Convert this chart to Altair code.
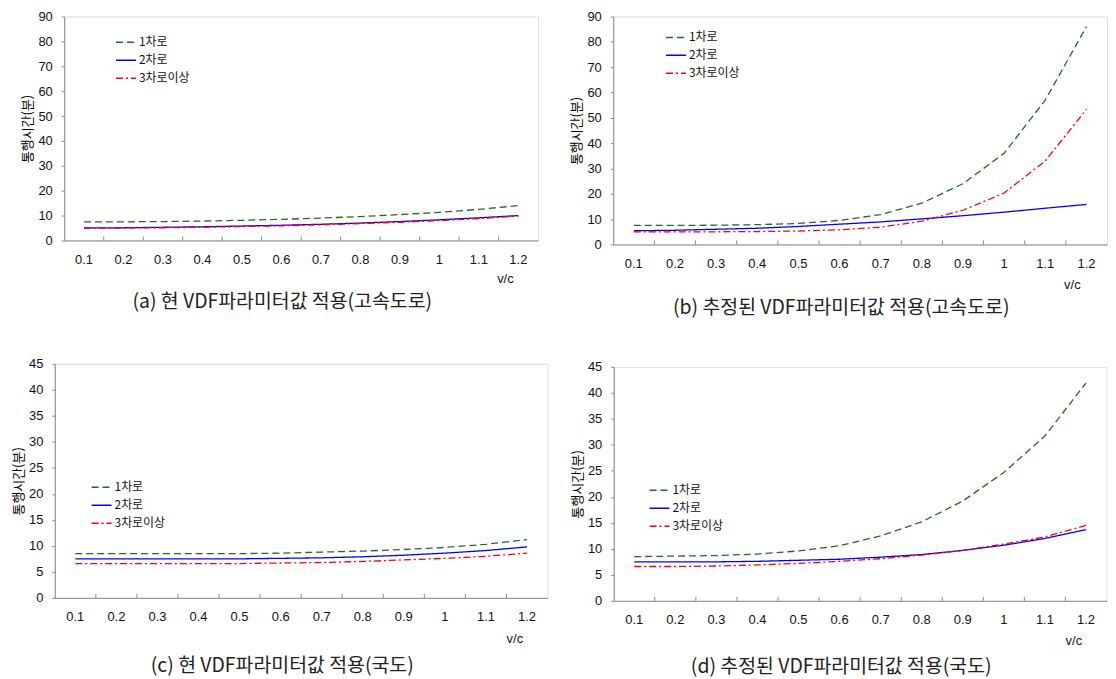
import altair as alt
import pandas as pd

vc = ["0.1", "0.2", "0.3", "0.4", "0.5", "0.6", "0.7", "0.8", "0.9", "1", "1.1", "1.2"]
series = ["1차로", "2차로", "3차로이상"]

# (a) 현 VDF파라미터값 적용(고속도로)
a1 = [7.5, 7.5, 7.6, 7.8, 8.1, 8.5, 9.0, 9.6, 10.4, 11.3, 12.5, 14.0]
a2 = [5.0, 5.1, 5.3, 5.5, 5.8, 6.1, 6.5, 7.0, 7.6, 8.3, 9.1, 10.0]
a3 = [5.0, 5.0, 5.1, 5.3, 5.6, 5.9, 6.3, 6.8, 7.3, 8.0, 8.8, 9.8]
# (b) 추정된 VDF파라미터값 적용(고속도로)
b1 = [7.5, 7.5, 7.6, 7.8, 8.3, 9.5, 11.8, 16.3, 24.0, 36.0, 57.0, 86.0]
b2 = [5.4, 5.6, 6.0, 6.4, 7.1, 8.0, 8.9, 10.1, 11.35, 12.75, 14.3, 15.8]
b3 = [5.0, 5.0, 5.0, 5.1, 5.3, 5.8, 6.8, 9.2, 13.5, 20.3, 33.0, 53.3]
# (c) 현 VDF파라미터값 적용(국도)
c1 = [8.5, 8.5, 8.5, 8.5, 8.5, 8.6, 8.8, 9.0, 9.3, 9.7, 10.3, 11.2]
c2 = [7.5, 7.5, 7.5, 7.5, 7.5, 7.6, 7.7, 7.9, 8.2, 8.6, 9.1, 9.8]
c3 = [6.6, 6.6, 6.6, 6.6, 6.6, 6.7, 6.8, 7.0, 7.3, 7.6, 8.0, 8.6]
# (d) 추정된 VDF파라미터값 적용(국도)
d1 = [8.5, 8.6, 8.7, 9.0, 9.6, 10.6, 12.5, 15.2, 19.2, 24.7, 31.7, 41.9]
d2 = [7.5, 7.5, 7.5, 7.6, 7.8, 8.0, 8.4, 8.9, 9.7, 10.7, 12.0, 13.7]
d3 = [6.6, 6.6, 6.7, 6.9, 7.2, 7.6, 8.1, 8.8, 9.7, 10.9, 12.3, 14.5]

captions = [
    "(a) 현 VDF파라미터값 적용(고속도로)",
    "(b) 추정된 VDF파라미터값 적용(고속도로)",
    "(c) 현 VDF파라미터값 적용(국도)",
    "(d) 추정된 VDF파라미터값 적용(국도)",
]

colors = ["#236b23", "#0000ff", "#ff0000"]
dashes = [[7, 4], [1, 0], [7, 3, 2, 3]]
GRAY = "#8a8a8a"
KR = "Noto Sans CJK KR"
NUM = "Liberation Sans"


def panel(v1, v2, v3, ymax, ystep, w, h, lx, ly, tx, ty, caption, coff):
    df = pd.DataFrame({
        "vc": vc * 3,
        "series": [s for s in series for _ in vc],
        "t": v1 + v2 + v3,
    })
    leg = alt.Legend(
        orient="none", legendX=lx, legendY=ly, title=None,
        symbolType="stroke", symbolSize=400, symbolStrokeWidth=1.5,
        labelFontSize=12, labelFont=KR, labelColor="#111",
        rowPadding=1, labelOffset=2,
    )
    xenc = alt.X(
        "vc:N", sort=vc,
        scale=alt.Scale(type="band", paddingInner=0, paddingOuter=0),
        bandPosition=0.5,
        axis=alt.Axis(
            title="v/c", ticks=False, labelPadding=13, labelAngle=0,
            labelFontSize=13, labelFont=NUM, labelColor="#111",
            domainColor=GRAY, titleX=tx, titleY=ty, titleAlign="right",
            titleBaseline="middle", titleFontSize=13, titleFont=NUM,
            titleFontWeight="normal", titleColor="#111",
        ),
    )
    yenc = alt.Y(
        "t:Q",
        scale=alt.Scale(domain=[0, ymax], nice=False),
        axis=alt.Axis(
            title="통행시간(분)", values=list(range(0, ymax + 1, ystep)),
            grid=False, tickSize=3, tickColor=GRAY, domainColor=GRAY,
            labelPadding=9, labelFontSize=13, labelFont=NUM, labelColor="#111",
            titlePadding=3, titleFont=KR, titleFontSize=13,
            titleFontWeight="normal", titleColor="#000",
        ),
    )
    lines = alt.Chart(df).mark_line(strokeWidth=1.3).encode(
        x=xenc,
        y=yenc,
        color=alt.Color("series:N", sort=series,
                        scale=alt.Scale(domain=series, range=colors), legend=leg),
        strokeDash=alt.StrokeDash("series:N", sort=series,
                                  scale=alt.Scale(domain=series, range=dashes), legend=leg),
    )
    ticks = alt.Chart(pd.DataFrame({"vc": vc[1:]})).mark_rule(color=GRAY).encode(
        x=alt.X("vc:N", sort=vc, bandPosition=0),
        y=alt.value(h - 4),
        y2=alt.value(h),
    )
    return alt.layer(lines, ticks).properties(
        width=w, height=h,
        title=alt.TitleParams(caption, orient="bottom", offset=coff, fontSize=19.5,
                              font=KR, fontWeight="normal", color="#222",
                              anchor="middle", frame="group", dx=-19),
    )


pa = panel(a1, a2, a3, 90, 10, 476, 225, 51, 15, 451, 38, captions[0], 8)
pb = panel(b1, b2, b3, 90, 10, 496, 229, 52, 10, 469, 40, captions[1], 8)
pc = panel(c1, c2, c3, 45, 5, 495, 235, 36, 113, 470, 41, captions[2], 11)
pd_ = panel(d1, d2, d3, 45, 5, 495, 235, 35, 113, 470, 40, captions[3], 10)

indep = dict(color="independent", strokeDash="independent")

col1 = alt.vconcat(pa, pc, spacing=124, bounds="flush", center=True) \
    .resolve_scale(**indep).resolve_legend(**indep)
col2 = alt.vconcat(pb, pd_, spacing=123, bounds="flush", center=True) \
    .resolve_scale(**indep).resolve_legend(**indep)

chart = alt.hconcat(col1, col2, spacing=22) \
    .resolve_scale(**indep).resolve_legend(**indep) \
    .properties(padding={"left": 4, "top": 0, "right": 0, "bottom": 0}) \
    .configure_view(stroke=GRAY, strokeWidth=1) \
    .configure(background="white")

chart.save("out.html", embed_options={"renderer": "svg", "actions": False})
